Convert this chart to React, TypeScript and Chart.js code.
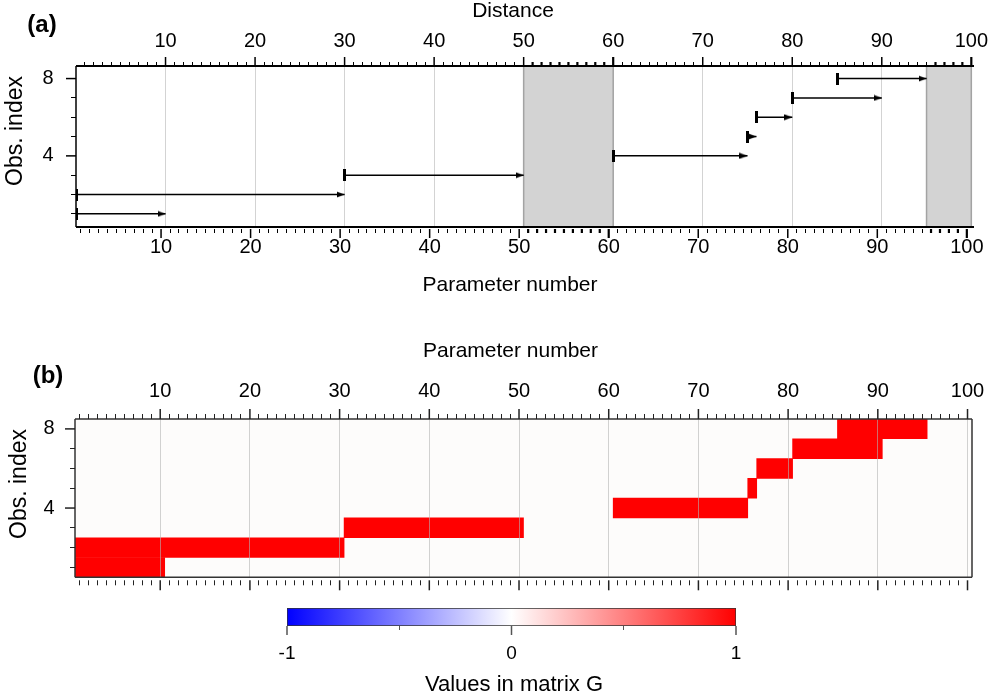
import React, { useEffect, useRef } from 'react';
import { Chart, registerables } from 'chart.js';

Chart.register(...registerables);

// ---------------- data ----------------
const obsIndex = [1, 2, 3, 4, 5, 6, 7, 8];
const distanceStart = [0, 0, 30, 60, 75, 76, 80, 85];
const distanceEnd = [10, 30, 50, 75, 76, 80, 90, 95];
const paramFirst = [1, 1, 31, 61, 76, 77, 81, 86];
const paramLast = [10, 30, 50, 75, 76, 80, 90, 95];
const gValues = [1, 1, 1, 1, 1, 1, 1, 1];
const shadedStart = [50, 95];
const shadedEnd = [60, 100];
const distanceTicks = [10, 20, 30, 40, 50, 60, 70, 80, 90, 100];
const paramTicks = [10, 20, 30, 40, 50, 60, 70, 80, 90, 100];
const obsTicks = [4, 8];
const colorbarTicks = [-1, 0, 1];
const colorbarMinorTicks = [-0.5, 0.5];
const colorStops = [-1, 0, 1];
const colorStopColors = ['#0000ff', '#ffffff', '#ff0000'];

// ---------------- helpers ----------------
const FONT = '"Liberation Sans", Arial, Helvetica, sans-serif';
const unitSteps = Array.from({ length: 100 }, (_, i) => i + 1);
const obsSteps = obsIndex.slice();

const A_YMIN = 0.32;
const A_YMAX = 8.65;

function hexToRgb(h: string) {
  const n = parseInt(h.slice(1), 16);
  return [(n >> 16) & 255, (n >> 8) & 255, n & 255];
}
function valueToColor(v: number) {
  for (let i = 0; i < colorStops.length - 1; i++) {
    const a = colorStops[i], b = colorStops[i + 1];
    if (v >= a && v <= b) {
      const t = (v - a) / (b - a);
      const c1 = hexToRgb(colorStopColors[i]);
      const c2 = hexToRgb(colorStopColors[i + 1]);
      const c = c1.map((x, k) => Math.round(x + (c2[k] - x) * t));
      return `rgb(${c[0]},${c[1]},${c[2]})`;
    }
  }
  return colorStopColors[colorStopColors.length - 1];
}

type TickSpec = {
  scale: string;
  side: 'top' | 'bottom' | 'left';
  values: number[];
  majors: number[];
  minorLen: number;
  majorLen: number;
  gap: number;
  color: string;
  bold?: number[][];
};

function tickMarksPlugin(specs: TickSpec[]) {
  return {
    id: 'tickMarks',
    afterDraw(chart: any) {
      const ctx = chart.ctx;
      const a = chart.chartArea;
      ctx.save();
      for (const s of specs) {
        const sc = chart.scales[s.scale];
        ctx.strokeStyle = s.color;
        for (const v of s.values) {
          const isMajor = s.majors.some((m) => Math.abs(m - v) < 1e-9);
          const len = isMajor ? s.majorLen : s.minorLen;
          const bold = (s.bold || []).some((r) => v > r[0] && v <= r[1]);
          const w = bold ? 2.2 : isMajor ? 1.5 : 1;
          ctx.lineWidth = w;
          let p = sc.getPixelForValue(v);
          if (w === 1) p = Math.round(p - 0.5) + 0.5;
          ctx.beginPath();
          if (s.side === 'top') {
            ctx.moveTo(p, a.top - s.gap);
            ctx.lineTo(p, a.top - s.gap - len);
          } else if (s.side === 'bottom') {
            ctx.moveTo(p, a.bottom + s.gap);
            ctx.lineTo(p, a.bottom + s.gap + len);
          } else {
            ctx.moveTo(a.left - s.gap, p);
            ctx.lineTo(a.left - s.gap - len, p);
          }
          ctx.stroke();
        }
      }
      ctx.restore();
    },
  };
}

function framePlugin(sides: { side: string; color: string; width: number }[]) {
  return {
    id: 'frame',
    afterDraw(chart: any) {
      const ctx = chart.ctx;
      const a = chart.chartArea;
      ctx.save();
      for (const s of sides) {
        ctx.strokeStyle = s.color;
        ctx.lineWidth = s.width;
        ctx.beginPath();
        if (s.side === 'top') { ctx.moveTo(a.left, a.top); ctx.lineTo(a.right, a.top); }
        if (s.side === 'bottom') { ctx.moveTo(a.left, a.bottom); ctx.lineTo(a.right, a.bottom); }
        if (s.side === 'left') { ctx.moveTo(a.left, a.top); ctx.lineTo(a.left, a.bottom); }
        if (s.side === 'right') { ctx.moveTo(a.right, a.top); ctx.lineTo(a.right, a.bottom); }
        ctx.stroke();
      }
      ctx.restore();
    },
  };
}

type TextSpec = { text: string; x: number; y: number; size: number; bold?: boolean; rot?: number };
function textPlugin(items: TextSpec[]) {
  return {
    id: 'texts',
    afterDraw(chart: any) {
      const ctx = chart.ctx;
      for (const t of items) {
        ctx.save();
        ctx.translate(t.x, t.y);
        if (t.rot) ctx.rotate((t.rot * Math.PI) / 180);
        ctx.font = `${t.bold ? 'bold ' : ''}${t.size}px ${FONT}`;
        ctx.fillStyle = '#000';
        ctx.textAlign = 'center';
        ctx.textBaseline = 'middle';
        ctx.fillText(t.text, 0, 0);
        ctx.restore();
      }
    },
  };
}

function backgroundPlugin(color: string) {
  return {
    id: 'panelBg',
    beforeDraw(chart: any) {
      const a = chart.chartArea;
      const ctx = chart.ctx;
      ctx.save();
      ctx.fillStyle = color;
      ctx.fillRect(a.left, a.top, a.right - a.left, a.bottom - a.top);
      ctx.restore();
    },
  };
}

function makeStartMark() {
  const c = document.createElement('canvas');
  c.width = 3;
  c.height = 12;
  const g = c.getContext('2d')!;
  g.fillStyle = '#000';
  g.fillRect(0, 0, 3, 12);
  return c;
}
function makeEndMark() {
  const L = 8, H = 7;
  const c = document.createElement('canvas');
  c.width = 2 * L;
  c.height = H;
  const g = c.getContext('2d')!;
  g.fillStyle = '#000';
  g.beginPath();
  g.moveTo(0, 0.5);
  g.lineTo(L, H / 2);
  g.lineTo(0, H - 0.5);
  g.closePath();
  g.fill();
  return c;
}

const setTicks = (vals: number[]) => (s: any) => {
  s.ticks = vals.map((v) => ({ value: v }));
};
const fixSize = (dim: 'width' | 'height', n: number) => (s: any) => {
  s[dim] = n;
  s.paddingLeft = 0;
  s.paddingRight = 0;
  s.paddingTop = 0;
  s.paddingBottom = 0;
};

export default function App() {
  const aRef = useRef<HTMLCanvasElement>(null);
  const bRef = useRef<HTMLCanvasElement>(null);
  const cRef = useRef<HTMLCanvasElement>(null);

  useEffect(() => {
    Chart.defaults.font.family = FONT;
    Chart.defaults.color = '#000';
    const charts: Chart[] = [];
    const startMark = makeStartMark();
    const endMark = makeEndMark();

    // ---------- panel (a) ----------
    const shadeSets = shadedStart.map((s, i) => ({
      type: 'line',
      data: [
        { x: s, y: A_YMIN },
        { x: s, y: A_YMAX },
        { x: shadedEnd[i], y: A_YMAX },
        { x: shadedEnd[i], y: A_YMIN },
      ],
      borderColor: '#a3a3a3',
      borderWidth: 1.5,
      backgroundColor: '#d3d3d3',
      fill: 'start',
      pointRadius: 0,
      tension: 0,
      order: 2,
      xAxisID: 'x',
      yAxisID: 'y',
    }));
    const arrowSets = obsIndex.map((obs, i) => ({
      type: 'line',
      label: 'obs ' + obs,
      data: [
        { x: distanceStart[i], y: obs },
        { x: distanceEnd[i], y: obs },
      ],
      borderColor: '#000',
      borderWidth: 1.5,
      pointStyle: [startMark, endMark],
      pointRadius: 2,
      pointHoverRadius: 2,
      fill: false,
      tension: 0,
      order: 1,
      xAxisID: 'x',
      yAxisID: 'y',
    }));

    charts.push(
      new Chart(aRef.current!, {
        type: 'line',
        data: { datasets: [...shadeSets, ...arrowSets] as any },
        options: {
          animation: false,
          responsive: false,
          devicePixelRatio: 1,
          events: [],
          layout: { padding: { left: 0, right: 16, top: 0, bottom: 0 } },
          plugins: { legend: { display: false }, tooltip: { enabled: false } },
          scales: {
            x: {
              type: 'linear',
              position: 'top',
              min: 0,
              max: 100.3,
              afterBuildTicks: setTicks(distanceTicks),
              afterFit: fixSize('height', 66),
              ticks: { font: { size: 20 }, padding: 13, autoSkip: false, maxRotation: 0, callback: (v: any) => String(v) },
              grid: { color: '#d3d3d3', lineWidth: 1, drawTicks: false },
              border: { display: false },
            },
            xb: {
              type: 'linear',
              axis: 'x',
              position: 'bottom',
              min: 0.5,
              max: 100.8,
              afterBuildTicks: setTicks(paramTicks),
              afterFit: fixSize('height', 73),
              ticks: { font: { size: 20 }, padding: 8, autoSkip: false, maxRotation: 0, callback: (v: any) => String(v) },
              grid: { display: false, drawTicks: false },
              border: { display: false },
            },
            y: {
              type: 'linear',
              position: 'left',
              min: A_YMIN,
              max: A_YMAX,
              afterBuildTicks: setTicks(obsTicks),
              afterFit: fixSize('width', 76),
              ticks: { font: { size: 20 }, padding: 22.5, autoSkip: false, callback: (v: any) => String(v) },
              grid: { display: false, drawTicks: false },
              border: { display: false },
            },
          } as any,
        },
        plugins: [
          framePlugin([
            { side: 'top', color: '#000', width: 2 },
            { side: 'bottom', color: '#000', width: 2 },
            { side: 'left', color: '#000', width: 1.5 },
          ]),
          tickMarksPlugin([
            { scale: 'x', side: 'top', values: unitSteps, majors: distanceTicks, minorLen: 4, majorLen: 9, gap: 0, color: '#000', bold: [[50, 60], [95, 100]] },
            { scale: 'xb', side: 'bottom', values: unitSteps, majors: paramTicks, minorLen: 4, majorLen: 9, gap: 2, color: '#000', bold: [[50, 60], [95, 100]] },
            { scale: 'y', side: 'left', values: obsSteps, majors: obsTicks, minorLen: 5, majorLen: 10, gap: 0, color: '#000' },
          ]),
          textPlugin([
            { text: '(a)', x: 42, y: 25, size: 24, bold: true },
            { text: 'Distance', x: 513, y: 11.5, size: 21 },
            { text: 'Parameter number', x: 510, y: 285, size: 21 },
            { text: 'Obs. index', x: 16, y: 131, size: 23, rot: -90 },
          ]),
        ] as any,
      } as any)
    );

    // ---------- panel (b) ----------
    const cells = obsIndex.map((obs, i) => ({ y: obs, x: [paramFirst[i] - 0.5, paramLast[i] + 0.5] }));
    charts.push(
      new Chart(bRef.current!, {
        type: 'bar',
        data: {
          datasets: [
            {
              data: cells,
              backgroundColor: gValues.map(valueToColor),
              borderWidth: 0,
              categoryPercentage: 1,
              barPercentage: 1,
            },
          ] as any,
        },
        options: {
          indexAxis: 'y',
          animation: false,
          responsive: false,
          devicePixelRatio: 1,
          events: [],
          layout: { padding: { left: 0, right: 18, top: 0, bottom: 22.7 } },
          plugins: { legend: { display: false }, tooltip: { enabled: false } },
          scales: {
            x: {
              type: 'linear',
              position: 'top',
              min: 0.5,
              max: 100.5,
              afterBuildTicks: setTicks(paramTicks),
              afterFit: fixSize('height', 119),
              ticks: { font: { size: 20 }, padding: 16, autoSkip: false, maxRotation: 0, callback: (v: any) => String(v) },
              grid: { color: 'rgba(180,180,180,0.6)', lineWidth: 1, drawTicks: false, z: 1 },
              border: { display: false },
            },
            y: {
              type: 'linear',
              position: 'left',
              min: 0.5,
              max: 8.5,
              offset: false,
              afterBuildTicks: setTicks(obsSteps),
              afterFit: fixSize('width', 75),
              ticks: { font: { size: 20 }, padding: 20.5, autoSkip: false, callback: (v: any) => (obsTicks.includes(Number(v)) ? String(v) : '') },
              grid: { display: false, drawTicks: false, offset: false },
              border: { display: false },
            },
          } as any,
        },
        plugins: [
          backgroundPlugin('#fdfcfb'),
          framePlugin([
            { side: 'top', color: '#333', width: 1.5 },
            { side: 'bottom', color: '#333', width: 1.5 },
            { side: 'left', color: '#333', width: 1.5 },
            { side: 'right', color: '#333', width: 1.5 },
          ]),
          tickMarksPlugin([
            { scale: 'x', side: 'top', values: unitSteps, majors: paramTicks, minorLen: 5, majorLen: 10, gap: 0, color: '#222' },
            { scale: 'x', side: 'bottom', values: unitSteps, majors: paramTicks, minorLen: 5, majorLen: 10, gap: 3, color: '#222' },
            { scale: 'y', side: 'left', values: obsSteps, majors: obsTicks, minorLen: 5, majorLen: 10, gap: 0, color: '#222' },
          ]),
          textPlugin([
            { text: '(b)', x: 48, y: 76, size: 24, bold: true },
            { text: 'Parameter number', x: 510.5, y: 51.7, size: 21 },
            { text: 'Obs. index', x: 20, y: 184, size: 23, rot: -90 },
          ]),
        ] as any,
      } as any)
    );

    // ---------- colorbar ----------
    const cbMin = colorStops[0];
    const cbMax = colorStops[colorStops.length - 1];
    charts.push(
      new Chart(cRef.current!, {
        type: 'bar',
        data: {
          labels: ['G'],
          datasets: [
            {
              data: [[cbMin, cbMax]],
              backgroundColor: (ctx: any) => {
                const a = ctx.chart.chartArea;
                if (!a) return '#ffffff';
                const g = ctx.chart.ctx.createLinearGradient(a.left, 0, a.right, 0);
                colorStops.forEach((v, i) => g.addColorStop((v - cbMin) / (cbMax - cbMin), colorStopColors[i]));
                return g;
              },
              borderColor: '#333',
              borderWidth: 1,
              borderSkipped: false,
              categoryPercentage: 1,
              barPercentage: 1,
            },
          ] as any,
        },
        options: {
          indexAxis: 'y',
          animation: false,
          responsive: false,
          devicePixelRatio: 1,
          events: [],
          layout: { padding: { left: 287, right: 254, top: 18, bottom: 0 } },
          plugins: { legend: { display: false }, tooltip: { enabled: false } },
          scales: {
            x: {
              type: 'linear',
              position: 'bottom',
              min: cbMin,
              max: cbMax,
              afterBuildTicks: setTicks([...colorbarTicks, ...colorbarMinorTicks].sort((p, q) => p - q)),
              afterFit: fixSize('height', 73),
              ticks: { font: { size: 19 }, padding: 16, autoSkip: false, maxRotation: 0, callback: (v: any) => (colorbarTicks.includes(Number(v)) ? String(v) : '') },
              grid: { display: false, drawTicks: false },
              border: { display: false },
            },
            y: { display: false },
          } as any,
        },
        plugins: [
          tickMarksPlugin([
            { scale: 'x', side: 'bottom', values: [...colorbarTicks, ...colorbarMinorTicks], majors: colorbarTicks, minorLen: 4, majorLen: 9, gap: 0, color: '#555' },
          ]),
          textPlugin([{ text: 'Values in matrix G', x: 514, y: 95, size: 22 }]),
        ] as any,
      } as any)
    );

    return () => charts.forEach((c) => c.destroy());
  }, []);

  return (
    <div style={{ position: 'absolute', left: 0, top: 0, width: 990, height: 699, background: '#fff', overflow: 'hidden' }}>
      <canvas ref={aRef} width={990} height={300} style={{ position: 'absolute', left: 0, top: 0, width: 990, height: 300 }} />
      <canvas ref={bRef} width={990} height={300} style={{ position: 'absolute', left: 0, top: 300, width: 990, height: 300 }} />
      <canvas ref={cRef} width={990} height={109} style={{ position: 'absolute', left: 0, top: 590, width: 990, height: 109 }} />
    </div>
  );
}
